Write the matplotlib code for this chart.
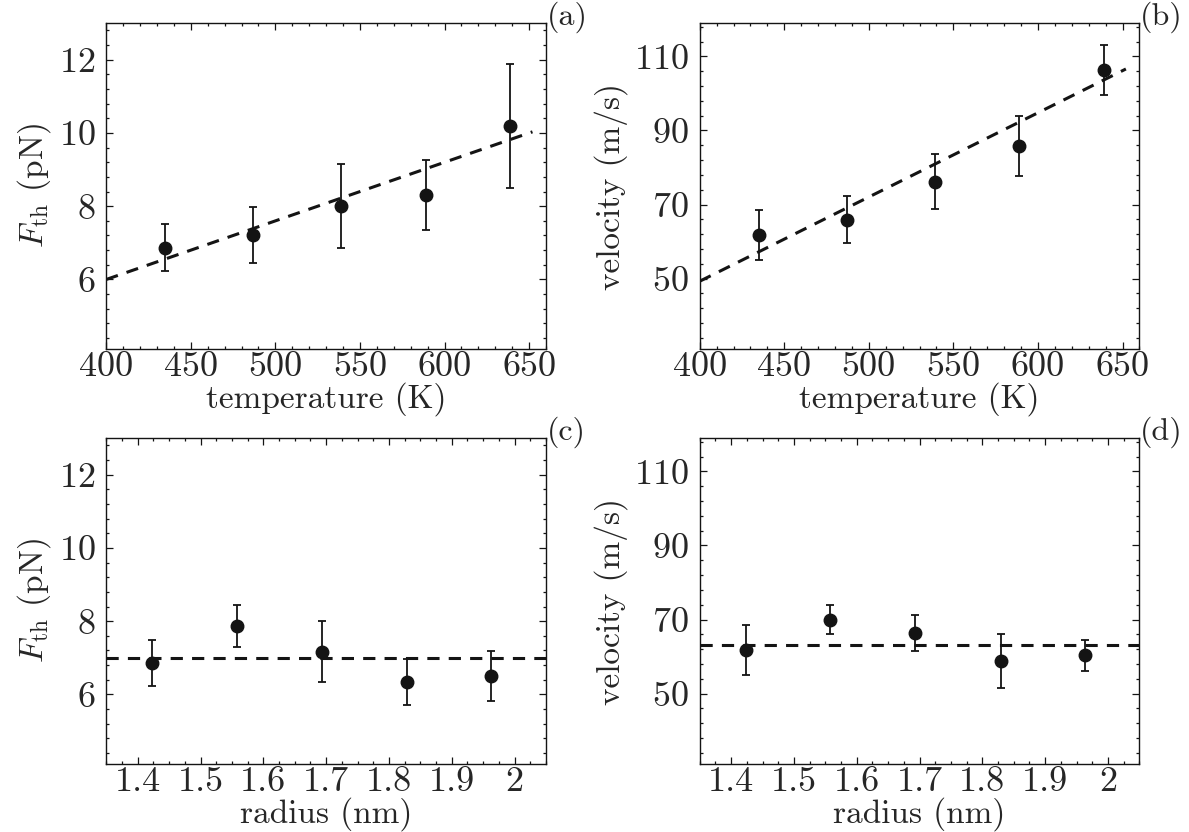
import numpy as np
import matplotlib
matplotlib.use('Agg')
import matplotlib.pyplot as plt
from matplotlib.ticker import AutoMinorLocator, FixedLocator, FuncFormatter

# data
temperature = [435, 487, 539, 589, 639]
radius = [1.423, 1.558, 1.693, 1.829, 1.963]

force_T = [6.87, 7.22, 8.0, 8.31, 10.18]
force_T_err = [0.63, 0.76, 1.15, 0.95, 1.69]
vel_T = [61.7, 65.9, 76.2, 85.8, 106.3]
vel_T_err = [6.8, 6.3, 7.4, 8.0, 6.7]

force_r = [6.86, 7.86, 7.17, 6.34, 6.5]
force_r_err = [0.63, 0.57, 0.83, 0.64, 0.68]
vel_r = [61.7, 70.0, 66.4, 58.8, 60.4]
vel_r_err = [6.8, 3.8, 4.9, 7.3, 4.2]

# linear fits (dashed)
fit_T = [400, 652]
fit_force_T = [6.0, 10.03]
fit_vel_T = [49.3, 106.6]
fit_force_r = 7.0
fit_vel_r = 63.0

# tick values
temp_ticks = [400, 450, 500, 550, 600, 650]
radius_ticks = [1.4, 1.5, 1.6, 1.7, 1.8, 1.9, 2.0]
force_ticks = [6, 8, 10, 12]
vel_ticks = [50, 70, 90, 110]

plt.rcParams['font.family'] = ['cmr10']
plt.rcParams['mathtext.fontset'] = 'cm'
plt.rcParams['axes.unicode_minus'] = False
plt.rcParams['axes.formatter.use_mathtext'] = True

TXT = '#262626'
INK = '#141414'
FS = 24      # axis labels
TFS = 26     # tick labels

fig = plt.figure(figsize=(11.89, 8.32), dpi=100)
w, h = 0.3698, 0.3918
ax_a = fig.add_axes([0.0894, 0.5805, w, h])
ax_b = fig.add_axes([0.5885, 0.5805, w, h])
ax_c = fig.add_axes([0.0894, 0.0817, w, h])
ax_d = fig.add_axes([0.5885, 0.0817, w, h])


def style(ax, xticks, xminor, yticks, label):
    ax.tick_params(which='both', direction='in', top=True, right=True,
                   colors=INK, labelcolor=TXT, labelsize=TFS, width=0.9)
    ax.tick_params(which='major', length=5)
    ax.tick_params(which='minor', length=2.5)
    ax.tick_params(axis='x', pad=2)
    ax.tick_params(axis='y', pad=8)
    ax.xaxis.set_major_locator(FixedLocator(xticks))
    ax.xaxis.set_minor_locator(AutoMinorLocator(xminor))
    ax.yaxis.set_major_locator(FixedLocator(yticks))
    ax.yaxis.set_minor_locator(AutoMinorLocator(5))
    ax.xaxis.set_major_formatter(FuncFormatter(lambda v, p: '%g' % round(v, 3)))
    for s in ax.spines.values():
        s.set_linewidth(1.0)
        s.set_color(INK)
    ax.annotate(label, xy=(1, 1), xycoords='axes fraction', xytext=(0.5, 4),
                textcoords='offset points', ha='left', va='center',
                fontsize=23, color=TXT)


def points(ax, x, y, e):
    ax.errorbar(x, y, yerr=e, fmt='o', color=INK, ms=9, elinewidth=1.3,
                capsize=3, capthick=1.3, zorder=3)


# (a)
points(ax_a, temperature, force_T, force_T_err)
ax_a.plot(fit_T, fit_force_T, color=INK, lw=2.2, dashes=(4, 3))
ax_a.set_xlim(400, 660)
ax_a.set_ylim(4.1, 13)
ax_a.set_xlabel('temperature (K)', fontsize=FS, color=TXT, labelpad=-1)
ax_a.set_ylabel(r'$F_\mathrm{th}$ (pN)', fontsize=FS, color=TXT, labelpad=4)
style(ax_a, temp_ticks, 5, force_ticks, '(a)')

# (b)
points(ax_b, temperature, vel_T, vel_T_err)
ax_b.plot(fit_T, fit_vel_T, color=INK, lw=2.2, dashes=(4, 3))
ax_b.set_xlim(400, 660)
ax_b.set_ylim(31, 119)
ax_b.set_xlabel('temperature (K)', fontsize=FS, color=TXT, labelpad=-1)
ax_b.set_ylabel('velocity (m/s)', fontsize=FS, color=TXT, labelpad=4)
style(ax_b, temp_ticks, 5, vel_ticks, '(b)')

# (c)
points(ax_c, radius, force_r, force_r_err)
ax_c.axhline(fit_force_r, color=INK, lw=2.2, dashes=(4, 3))
ax_c.set_xlim(1.35, 2.05)
ax_c.set_ylim(4.1, 13)
ax_c.set_xlabel('radius (nm)', fontsize=FS, color=TXT, labelpad=-1)
ax_c.set_ylabel(r'$F_\mathrm{th}$ (pN)', fontsize=FS, color=TXT, labelpad=4)
style(ax_c, radius_ticks, 4, force_ticks, '(c)')

# (d)
points(ax_d, radius, vel_r, vel_r_err)
ax_d.axhline(fit_vel_r, color=INK, lw=2.2, dashes=(4, 3))
ax_d.set_xlim(1.35, 2.05)
ax_d.set_ylim(31, 119)
ax_d.set_xlabel('radius (nm)', fontsize=FS, color=TXT, labelpad=-1)
ax_d.set_ylabel('velocity (m/s)', fontsize=FS, color=TXT, labelpad=4)
style(ax_d, radius_ticks, 4, vel_ticks, '(d)')

fig.savefig('out.png', dpi=100)
